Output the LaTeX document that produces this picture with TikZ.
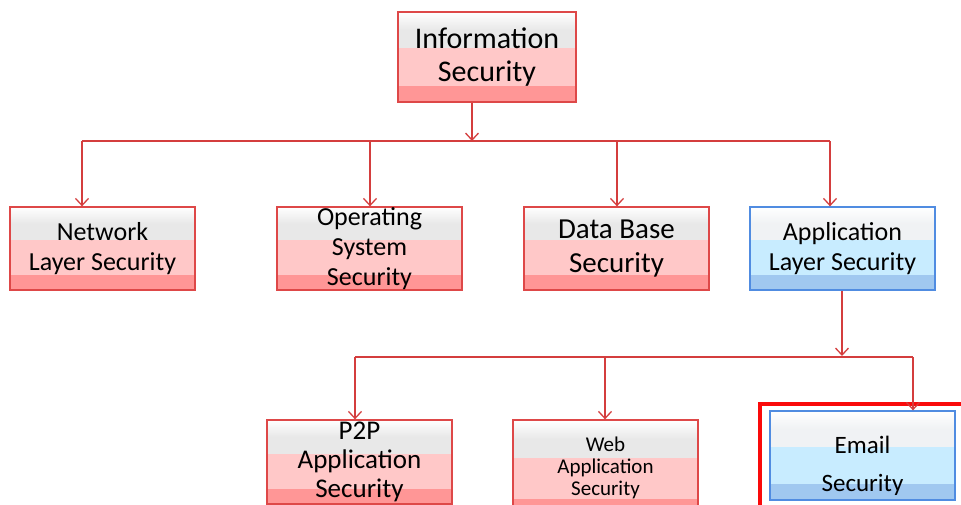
\documentclass[tikz,border=0pt]{standalone}
\usepackage{fontspec}
\setmainfont{Carlito}
\usetikzlibrary{arrows.meta,calc}

\definecolor{boxred}{RGB}{222,72,72}
\definecolor{linkred}{RGB}{212,62,62}
\definecolor{framered}{RGB}{250,10,10}
\definecolor{pinkdark}{RGB}{255,150,150}
\definecolor{pinkmid}{RGB}{255,200,200}
\definecolor{bandgray}{RGB}{232,232,232}
\definecolor{boxblue}{RGB}{80,140,225}
\definecolor{bluedark}{RGB}{160,200,240}
\definecolor{bluemid}{RGB}{200,236,255}
\definecolor{bluegray}{RGB}{240,242,244}

\tikzset{
  banded/.style n args={3}{
    path picture={
      \fill[#1] (path picture bounding box.south west) rectangle (path picture bounding box.north east);
      \fill[#2] ($(path picture bounding box.south west)!0.18!(path picture bounding box.north west)$) rectangle (path picture bounding box.north east);
      \fill[#3] ($(path picture bounding box.south west)!0.60!(path picture bounding box.north west)$) rectangle (path picture bounding box.north east);
      \shade[top color=white, bottom color=#3] ($(path picture bounding box.south west)!0.80!(path picture bounding box.north west)$) rectangle (path picture bounding box.north east);
    }},
  secbox/.style={draw=boxred, line width=1.3pt, minimum width=185, minimum height=83,
    align=center, inner sep=0pt, banded={pinkdark}{pinkmid}{bandgray},
    font=\fontsize{26}{30}\selectfont},
  appbox/.style={secbox, draw=boxblue, banded={bluedark}{bluemid}{bluegray}},
  link/.style={linkred, line width=1.4pt},
  arrow/.style={link, -{Straight Barb[length=7pt,width=13pt,line width=1.3pt]}}
}

\begin{document}
\begin{tikzpicture}[x=1pt,y=-1pt]
  \useasboundingbox (0,0) rectangle (961,504);
  \clip (0,0) rectangle (961,504);

  % top node
  \node[secbox, minimum width=178, minimum height=90, font=\fontsize{30}{33}\selectfont]
    (info) at (487,57) {Information\\Security};

  % second level
  \node[secbox] (net) at (102.5,248.5) {Network\\Layer Security};
  \node[secbox] (os) at (369.5,248.5) {Operating\\System\\Security};
  \node[secbox, font=\fontsize{29}{34}\selectfont] (db) at (616.5,248.5) {Data Base\\Security};
  \node[appbox] (app) at (842.5,248.5) {Application\\Layer Security};

  % third level
  \node[secbox, minimum height=84, font=\fontsize{27}{29}\selectfont] (p2p) at (359.5,462) {P2P\\Application\\Security};
  \node[secbox, minimum height=96, font=\fontsize{21}{22}\selectfont] (web) at (605.5,468) {Web\\Application\\Security};
  \node[appbox, minimum height=89] (email) at (862.5,455.5) {};
  \node[font=\fontsize{25}{38}\selectfont, align=center] (emailtxt) at ([yshift=-10pt]email.center) {Email\\Security};
  \draw[framered, line width=4pt] (760,404) rectangle (975,515);

  % bus to second level
  \coordinate (hub) at (472,141);
  \coordinate (j1) at (82,141);
  \coordinate (j2) at (370,141);
  \coordinate (j3) at (617,141);
  \coordinate (j4) at (830,141);
  \draw[link] (j1) -- (j4);
  \draw[arrow] (info.south -| hub) -- (hub);
  \draw[arrow] (j1) -- (j1 |- net.north);
  \draw[arrow] (j2) -- (j2 |- os.north);
  \draw[arrow] (j3) -- (j3 |- db.north);
  \draw[arrow] (j4) -- (j4 |- app.north);

  % bus to third level
  \coordinate (hub2) at (842,356);
  \coordinate (k1) at (355,357);
  \coordinate (k2) at (605,357);
  \coordinate (k3) at (913,357);
  \draw[link] (k1) -- (k3);
  \draw[arrow] (app.south -| hub2) -- (hub2);
  \draw[arrow] (k1) -- (k1 |- p2p.north);
  \draw[arrow] (k2) -- (k2 |- web.north);
  \draw[arrow] (k3) -- (k3 |- email.north);
\end{tikzpicture}
\end{document}
